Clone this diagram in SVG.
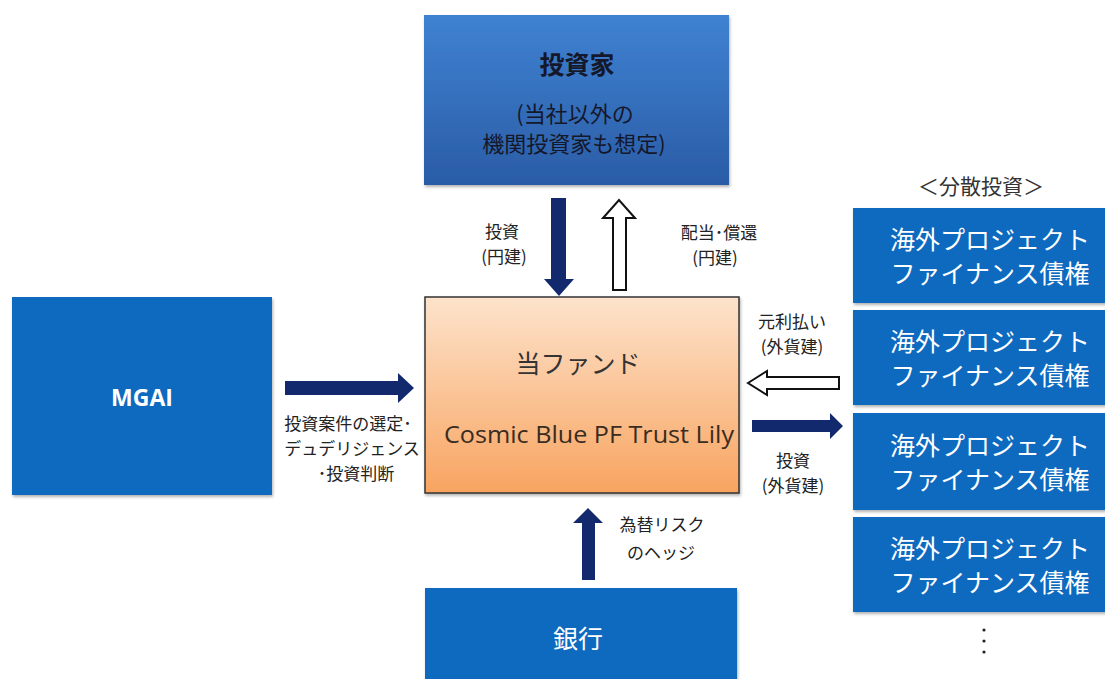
<svg xmlns="http://www.w3.org/2000/svg" width="1105" height="679" viewBox="0 0 1105 679">
<defs>
<linearGradient id="gInv" x1="0" y1="0" x2="0" y2="1">
<stop offset="0" stop-color="#3f82d2"/>
<stop offset="1" stop-color="#2a5ca6"/>
</linearGradient>
<linearGradient id="gFund" x1="0" y1="0" x2="0" y2="1">
<stop offset="0" stop-color="#fde3cc"/>
<stop offset="1" stop-color="#f8a460"/>
</linearGradient>
<filter id="sh" x="-5%" y="-5%" width="110%" height="115%">
<feDropShadow dx="1" dy="2" stdDeviation="1.5" flood-color="#000" flood-opacity="0.3"/>
</filter>
</defs>
<style>
.jp{font-family:"Noto Sans CJK JP","Noto Sans",sans-serif;}
.blue{fill:#0b6bbf;filter:url(#sh);}
.lbl{font-size:17px;fill:#222;text-anchor:middle;dominant-baseline:central;}
.bx{font-size:25px;text-anchor:middle;dominant-baseline:central;fill:#fff;}
.navy{fill:#12296e;}
.hollow{fill:#fff;stroke:#111;stroke-width:2;stroke-linejoin:miter;}
</style>
<rect width="1105" height="679" fill="#ffffff"/>

<g id="investor">
<rect x="424" y="15" width="305" height="170" fill="url(#gInv)" filter="url(#sh)"/>
<text class="jp" x="577" y="63" font-size="25" font-weight="bold" fill="#15182a" text-anchor="middle" dominant-baseline="central">投資家</text>
<text class="jp" x="575" y="112" font-size="22" fill="#15182a" text-anchor="middle" dominant-baseline="central">(当社以外の</text>
<text class="jp" x="574" y="142" font-size="22" fill="#15182a" text-anchor="middle" dominant-baseline="central">機関投資家も想定)</text>
</g>

<g id="fund">
<rect x="425" y="297" width="314" height="196" fill="url(#gFund)" stroke="#333" stroke-width="1.5" filter="url(#sh)"/>
<text class="jp" x="578" y="362" font-size="25" fill="#333" text-anchor="middle" dominant-baseline="central">当ファンド</text>
<text x="589" y="434" font-family="'Open Sans','Noto Sans',sans-serif" font-size="23" fill="#3a2c20" text-anchor="middle" dominant-baseline="central" textLength="290" lengthAdjust="spacingAndGlyphs">Cosmic Blue PF Trust Lily</text>
</g>

<g id="mgai">
<rect class="blue" x="12" y="297" width="260" height="198"/>
<text x="142" y="397" font-family="'Open Sans','Noto Sans',sans-serif" font-size="23" font-weight="bold" fill="#fff" text-anchor="middle" dominant-baseline="central">MGAI</text>
</g>

<g id="bank">
<rect class="blue" x="425" y="588" width="312" height="95"/>
<text class="jp bx" x="578" y="637" font-size="26">銀行</text>
</g>

<g id="header">
<text class="jp" x="981" y="185" font-size="21" fill="#333" text-anchor="middle" dominant-baseline="central">＜分散投資＞</text>
</g>

<g id="bond1">
<rect class="blue" x="853" y="208" width="260" height="95"/>
<text class="jp bx" x="990" y="238">海外プロジェクト</text>
<text class="jp bx" x="990" y="272">ファイナンス債権</text>
</g>
<g id="bond2">
<rect class="blue" x="853" y="310" width="260" height="95"/>
<text class="jp bx" x="990" y="340">海外プロジェクト</text>
<text class="jp bx" x="990" y="374">ファイナンス債権</text>
</g>
<g id="bond3">
<rect class="blue" x="853" y="413" width="260" height="97"/>
<text class="jp bx" x="990" y="444">海外プロジェクト</text>
<text class="jp bx" x="990" y="478">ファイナンス債権</text>
</g>
<g id="bond4">
<rect class="blue" x="853" y="517" width="260" height="95"/>
<text class="jp bx" x="990" y="547">海外プロジェクト</text>
<text class="jp bx" x="990" y="581">ファイナンス債権</text>
</g>

<g id="more">
<circle cx="984" cy="630" r="1.6" fill="#222"/>
<circle cx="984" cy="641" r="1.6" fill="#222"/>
<circle cx="984" cy="652" r="1.6" fill="#222"/>
</g>

<g id="connectors">
<polygon class="navy" points="551,198 566,198 566,279 574,279 559,296 544,279 551,279"/>
<polygon class="hollow" points="613,290 613,218 603,218 619,200 635,218 626,218 626,290"/>
<polygon class="navy" points="285,381 398,381 398,373 414,388 398,403 398,395 285,395"/>
<polygon class="hollow" points="748,383 767,371 767,377 839,377 839,389 767,389 767,395"/>
<polygon class="navy" points="752,420 830,420 830,413 843,426 830,439 830,432 752,432"/>
<polygon class="navy" points="582,580 582,523 573,523 588,508 603,523 595,523 595,580"/>

<text class="jp lbl" x="502" y="230">投資</text>
<text class="jp lbl" x="504" y="255">(円建)</text>
<text class="jp lbl" x="719" y="231">配当･償還</text>
<text class="jp lbl" x="715" y="256">(円建)</text>
<text class="jp lbl" x="348" y="422">投資案件の選定･</text>
<text class="jp lbl" x="352" y="447">デュデリジェンス</text>
<text class="jp lbl" x="356" y="472">･投資判断</text>
<text class="jp lbl" x="792" y="320">元利払い</text>
<text class="jp lbl" x="792" y="345">(外貨建)</text>
<text class="jp lbl" x="793" y="459">投資</text>
<text class="jp lbl" x="793" y="484">(外貨建)</text>
<text class="jp lbl" x="662" y="523" font-size="18">為替リスク</text>
<text class="jp lbl" x="661" y="551" font-size="18">のヘッジ</text>
</g>
</svg>
